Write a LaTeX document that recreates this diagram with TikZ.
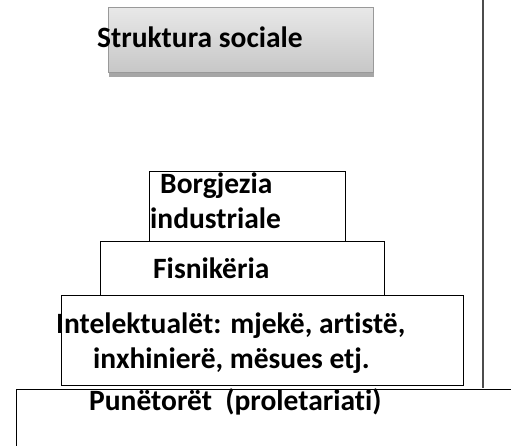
\documentclass[tikz,border=0pt]{standalone}
\usepackage{fontspec}
\setmainfont{Carlito}[RawFeature={-liga;-clig;-dlig}]
\begin{document}
\begin{tikzpicture}[x=1pt,y=-1pt,
  frame/.style={draw=black,line width=1.4pt,fill=white,inner sep=0pt,anchor=north west},
  lbl/.style={font=\fontsize{29.5}{35}\selectfont\bfseries,inner sep=0pt,anchor=base west},
  rule/.style={draw=black!70,line width=1.2pt}]
\useasboundingbox (0,0) rectangle (511,445);
\begin{scope}
\clip (0,0) rectangle (511,445);
% title box
\fill[black!35] (109,71) rectangle (374,77);
\node (title) [anchor=north west,inner sep=0pt,minimum width=265pt,minimum height=65pt,
  top color=black!9,bottom color=black!22,draw=black!40,line width=1pt] at (108,7) {};
\node (tt) [lbl] at (97,47) {Struktura sociale};
% side line
\coordinate (vtop) at (483,0);
\coordinate (vbot) at (483,388);
\draw[rule] (vtop) -- (vbot);
% bottom box
\node (b4) [frame,minimum width=520pt,minimum height=80pt] at (16,389) {};
\node (t4) [lbl] at (89,410) {Punëtorët\ \ (proletariati)};
% intellectuals
\node (b3) [frame,minimum width=402pt,minimum height=90pt] at (61,295) {};
\node (t3a) [lbl] at (56,333) {Intelektualët: mjekë, artistë,};
\node (t3b) [lbl] at (93,368) {inxhinierë, mësues etj.};
% nobility
\node (b2) [frame,minimum width=284pt,minimum height=54pt] at (100,241) {};
\node (t2) [lbl] at (153,278) {Fisnikëria};
% bourgeoisie
\node (b1) [frame,minimum width=196pt,minimum height=70pt] at (149,171) {};
\node (t1a) [lbl] at (160,193) {Borgjezia};
\node (t1b) [lbl] at (150,228) {industriale};
\end{scope}
\end{tikzpicture}
\end{document}
